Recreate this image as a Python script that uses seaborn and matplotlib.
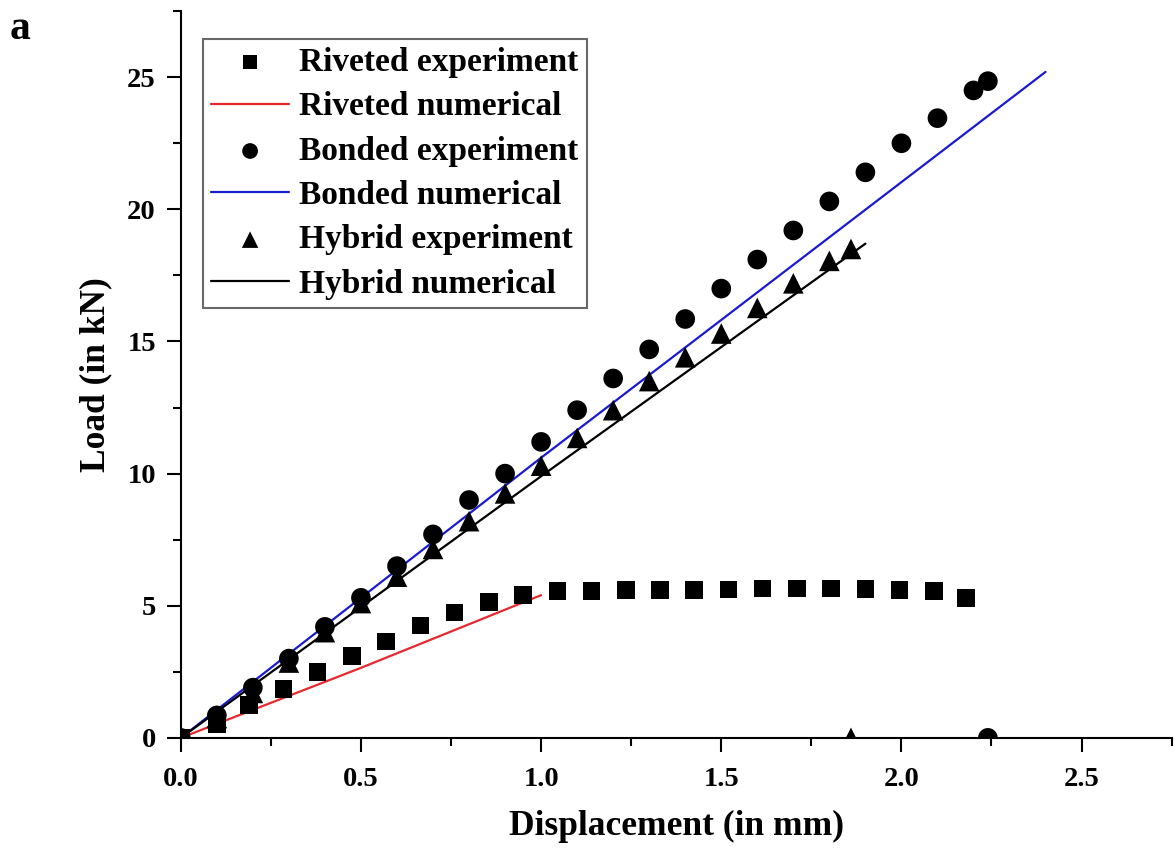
import seaborn as sns
import matplotlib.pyplot as plt
from matplotlib.ticker import MultipleLocator

# data
riv_exp_x = [0.0, 0.1, 0.19, 0.285, 0.38, 0.475, 0.57, 0.665, 0.76, 0.855, 0.95, 1.045, 1.14,
             1.235, 1.33, 1.425, 1.52, 1.615, 1.71, 1.805, 1.9, 1.995, 2.09, 2.18]
riv_exp_y = [0.0, 0.5, 1.25, 1.85, 2.5, 3.1, 3.65, 4.25, 4.75, 5.15, 5.4, 5.55, 5.55,
             5.6, 5.6, 5.6, 5.62, 5.65, 5.65, 5.65, 5.63, 5.6, 5.55, 5.3]
riv_num_x = [0.0, 0.5, 1.0]
riv_num_y = [0.0, 2.65, 5.4]

bon_exp_x = [0.0, 0.1, 0.2, 0.3, 0.4, 0.5, 0.6, 0.7, 0.8, 0.9, 1.0, 1.1, 1.2, 1.3, 1.4,
             1.5, 1.6, 1.7, 1.8, 1.9, 2.0, 2.1, 2.2, 2.24, 2.24]
bon_exp_y = [0.0, 0.85, 1.9, 3.0, 4.2, 5.3, 6.5, 7.7, 9.0, 10.0, 11.2, 12.4, 13.6, 14.7, 15.85,
             17.0, 18.1, 19.2, 20.3, 21.4, 22.5, 23.45, 24.5, 24.85, 0.0]
bon_num_x = [0.0, 1.0, 2.4]
bon_num_y = [0.0, 10.6, 25.2]

hyb_exp_x = [0.0, 0.1, 0.2, 0.3, 0.4, 0.5, 0.6, 0.7, 0.8, 0.9, 1.0, 1.1, 1.2, 1.3, 1.4,
             1.5, 1.6, 1.7, 1.8, 1.86, 1.86]
hyb_exp_y = [0.0, 0.75, 1.7, 2.85, 4.0, 5.1, 6.1, 7.15, 8.2, 9.25, 10.3, 11.35, 12.4, 13.5, 14.4,
             15.3, 16.27, 17.2, 18.05, 18.5, 0.0]
hyb_num_x = [0.0, 1.0, 1.9]
hyb_num_y = [0.0, 9.9, 18.7]

sns.set_theme(style='ticks')
plt.rcParams['font.family'] = ['Liberation Serif', 'DejaVu Serif']
plt.rcParams['font.weight'] = 'bold'
plt.rcParams['text.color'] = 'black'
plt.rcParams['axes.labelcolor'] = 'black'

fig = plt.figure(figsize=(11.74, 8.56), dpi=100)
ax = fig.add_axes([0.154, 0.138, 0.844, 0.849])

sns.scatterplot(x=riv_exp_x, y=riv_exp_y, marker='s', s=160, color='black',
                edgecolor='none', label='Riveted experiment', ax=ax, zorder=3)
sns.lineplot(x=riv_num_x, y=riv_num_y, color='#e8282e', linewidth=1.6,
             label='Riveted numerical', ax=ax)
sns.scatterplot(x=bon_exp_x, y=bon_exp_y, marker='o', s=200, color='black',
                edgecolor='none', label='Bonded experiment', ax=ax, zorder=3)
sns.lineplot(x=bon_num_x, y=bon_num_y, color='#1a1ad0', linewidth=1.6,
             label='Bonded numerical', ax=ax)
sns.scatterplot(x=hyb_exp_x, y=hyb_exp_y, marker='^', s=220, color='black',
                edgecolor='none', label='Hybrid experiment', ax=ax, zorder=3)
sns.lineplot(x=hyb_num_x, y=hyb_num_y, color='black', linewidth=1.6,
             label='Hybrid numerical', ax=ax)

ax.set_xlim(0, 2.75)
ax.set_ylim(0, 27.5)
ax.xaxis.set_minor_locator(MultipleLocator(0.25))
ax.yaxis.set_minor_locator(MultipleLocator(2.5))
ax.set_xticks([0, 0.5, 1.0, 1.5, 2.0, 2.5])
ax.set_xticklabels(['0.0', '0.5', '1.0', '1.5', '2.0', '2.5'])
ax.set_yticks([0, 5, 10, 15, 20, 25])
ax.set_yticklabels(['0', '5', '10', '15', '20', '25'])
ax.tick_params(which='major', length=10, width=1.5, direction='out', labelsize=20.5,
               colors='black')
ax.tick_params(axis='x', which='major', pad=11)
ax.tick_params(axis='y', which='major', pad=8)
ax.tick_params(which='minor', length=6, width=1.5, direction='out', colors='black')
for lab in ax.get_xticklabels() + ax.get_yticklabels():
    lab.set_fontweight('bold')

sns.despine(ax=ax)
for side in ['left', 'bottom']:
    ax.spines[side].set_linewidth(1.5)
    ax.spines[side].set_color('black')

ax.set_xlabel('Displacement (in mm)', fontsize=25.5, fontweight='bold', labelpad=13)
ax.set_ylabel('Load (in kN)', fontsize=25.5, fontweight='bold', labelpad=11)

leg = ax.legend(loc='upper left', bbox_to_anchor=(0.022, 0.962), borderaxespad=0,
                fontsize=24, frameon=True, fancybox=False, edgecolor='#444444',
                handlelength=2.35, handletextpad=0.3, labelspacing=0.4,
                borderpad=0.25, markerscale=0.8)
leg.get_frame().set_linewidth(1.5)
for t in leg.get_texts():
    t.set_fontweight('bold')

fig.text(0.008, 0.955, 'a', fontsize=30, fontweight='bold')

fig.savefig('out.png', dpi=100)
